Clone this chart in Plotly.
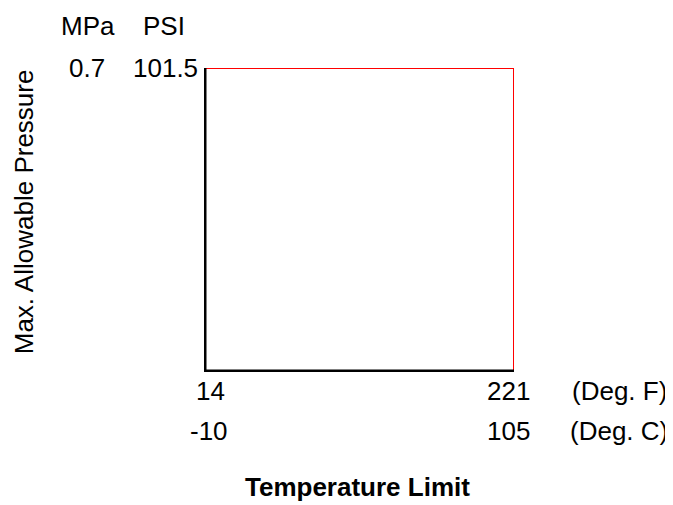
import plotly.graph_objects as go

# Data
temp_f = [14, 221]
temp_c = [-10, 105]
pressure_psi = [0, 101.5]
pressure_mpa = [0, 0.7]

OFF = 8  # default body margin of the page
W, H = 673 - OFF, 505 - OFF
# plot area in page pixels
PL, PR, PT, PB = 204, 514, 67.5, 372
L, R, T, B = PL - OFF, PR - OFF, PT - OFF, PB - OFF

fig = go.Figure()
# red limit line (top and right)
fig.add_trace(go.Scatter(
    x=[temp_f[0], temp_f[1], temp_f[1]],
    y=[pressure_psi[1], pressure_psi[1], pressure_psi[0]],
    mode="lines", line=dict(color="#ff0000", width=2), hoverinfo="skip",
    showlegend=False, cliponaxis=False))
# black axes (left and bottom)
fig.add_trace(go.Scatter(
    x=[temp_f[0], temp_f[0], temp_f[1]],
    y=[pressure_psi[1], pressure_psi[0], pressure_psi[0]],
    mode="lines", line=dict(color="black", width=5), hoverinfo="skip",
    showlegend=False, cliponaxis=False))

FS = 26
font = dict(family="Liberation Sans, Arial, sans-serif", size=FS, color="black")

def ann(text, px, py, bold=False, angle=0):
    # px, py are page coordinates
    fx, fy = px - OFF, py - OFF
    x = (fx - L) / (R - L)
    y = (B - fy) / (B - T)
    return dict(text=f"<b>{text}</b>" if bold else text, x=x, y=y,
                xref="paper", yref="paper", showarrow=False,
                xanchor="center", yanchor="middle", font=font, textangle=angle)

annotations = [
    ann("MPa", 88, 25),
    ann("PSI", 164, 25),
    ann(str(pressure_mpa[1]), 87, 68),
    ann(str(pressure_psi[1]), 165, 68),
    ann(str(temp_f[0]), 210, 391),
    ann(str(temp_c[0]), 209, 431),
    ann(str(temp_f[1]), 508, 391),
    ann(str(temp_c[1]), 508, 431),
    ann("(Deg. F)", 619, 391),
    ann("(Deg. C)", 619, 431),
    ann("Temperature Limit", 357, 487, bold=True),
    ann("Max. Allowable Pressure", 24, 212, angle=-90),
]

fig.update_layout(
    width=W, height=H,
    margin=dict(l=L, r=W - R, t=T, b=H - B, pad=0),
    paper_bgcolor="white", plot_bgcolor="white",
    xaxis=dict(range=[temp_f[0], temp_f[1]], visible=False, fixedrange=True),
    yaxis=dict(range=[pressure_psi[0], pressure_psi[1]], visible=False, fixedrange=True),
    annotations=annotations,
)

fig.write_html("out.html")
